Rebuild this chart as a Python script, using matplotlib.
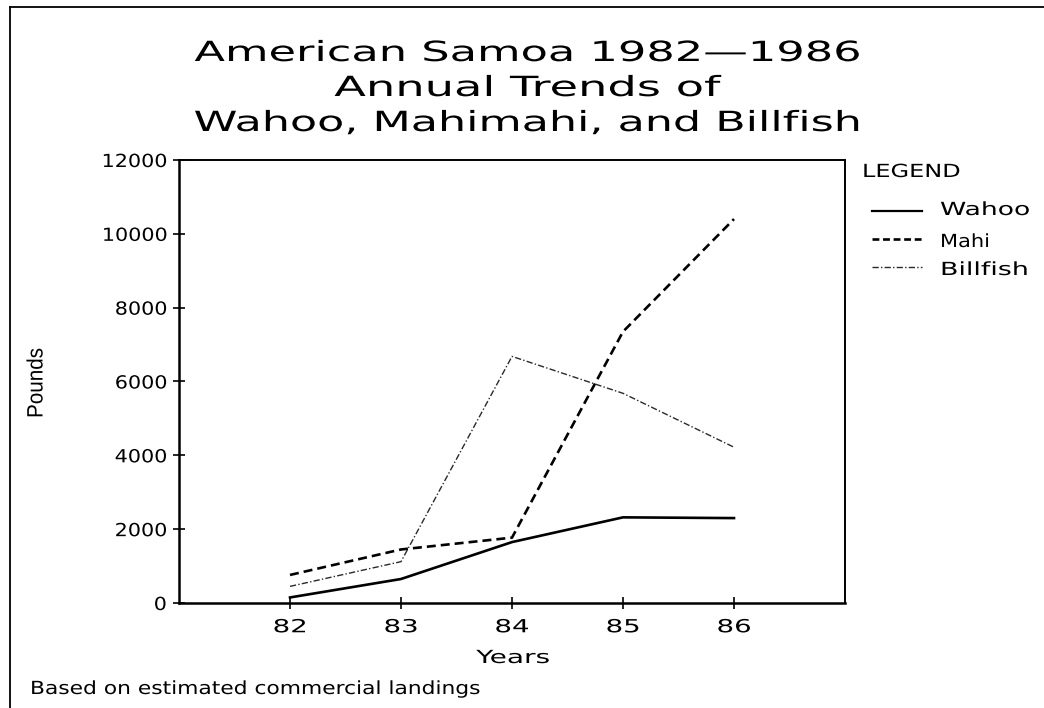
import matplotlib
matplotlib.use("Agg")
import matplotlib.pyplot as plt
from matplotlib.lines import Line2D
from matplotlib.patheffects import AbstractPathEffect
from matplotlib.transforms import Affine2D

years = [82, 83, 84, 85, 86]
wahoo = [150, 650, 1650, 2320, 2300]
mahi = [760, 1450, 1770, 7350, 10400]
billfish = [450, 1120, 6680, 5680, 4220]
yticks = [0, 2000, 4000, 6000, 8000, 10000, 12000]
series_names = ["Wahoo", "Mahi", "Billfish"]
title_lines = ["American Samoa 1982\u20141986", "Annual Trends of", "Wahoo, Mahimahi, and Billfish"]
footer = "Based on estimated commercial landings"


class HStretch(AbstractPathEffect):
    """Stretch glyph outlines along the baseline (keeps the text as text)."""
    def __init__(self, sx=1.0, anchor="center"):
        super().__init__()
        self.sx = sx
        self.anchor = anchor

    def draw_path(self, renderer, gc, tpath, affine, rgbFace=None):
        ext = tpath.get_extents()
        if self.anchor == "left":
            cx = 0.0
        elif self.anchor == "right":
            cx = ext.x1
        else:
            cx = 0.5 * (ext.x0 + ext.x1)
        t = Affine2D().translate(-cx, 0).scale(self.sx, 1.0).translate(cx, 0) + affine
        renderer.draw_path(gc, tpath, t, rgbFace)


plt.rcParams['font.family'] = ['DejaVu Sans']
plt.rcParams['font.weight'] = 'normal'

W, H = 1044, 708
fig = plt.figure(figsize=(W / 100, H / 100), dpi=100)
fig.patch.set_facecolor('white')

def fx(px):
    return px / W

def fy(py):
    return 1 - py / H

AX_L, AX_R, AX_T, AX_B = 179, 845, 160, 603
ax = fig.add_axes([fx(AX_L), fy(AX_B), (AX_R - AX_L) / W, (AX_B - AX_T) / H])

line_styles = [dict(color='black', lw=1.9, ls='-'),
               dict(color='black', lw=1.9, ls=(0, (3.4, 1.9))),
               dict(color='#2a2a2a', lw=1.0, ls=(0, (4.5, 1.6, 1.0, 1.6)))]
for vals, name, st in zip([wahoo, mahi, billfish], series_names, line_styles):
    ax.plot(years, vals, label=name, **st)

ax.set_xlim(81, 87)
ax.set_ylim(0, 12000)
ax.set_xticks(years)
ax.set_xticklabels([str(y) for y in years])
ax.set_yticks(yticks)
ax.set_yticklabels([str(v) for v in yticks])
ax.tick_params(direction='inout', length=8, width=1.2, labelsize=13)
ax.tick_params(axis='x', pad=7)
ax.tick_params(axis='y', pad=5)
for k, s in ax.spines.items():
    s.set_linewidth(1.8 if k in ('left', 'bottom') else 1.4)

stretch_items = []  # (text, effect, target width px)

xeff = HStretch(1.0, 'center')
for lbl in ax.get_xticklabels():
    lbl.set_path_effects([xeff])
yeff = HStretch(1.0, 'right')
for lbl in ax.get_yticklabels():
    lbl.set_path_effects([yeff])

ax.set_xlabel('Years', fontsize=13, weight='normal')
ax.xaxis.label.set_va('baseline')
ax.xaxis.set_label_coords((513 - AX_L) / (AX_R - AX_L), -(663 - AX_B) / (AX_B - AX_T))
e = HStretch(1.0, 'center'); ax.xaxis.label.set_path_effects([e])
stretch_items.append((ax.xaxis.label, e, 74))

ax.set_ylabel('Pounds', fontsize=16, family=['Liberation Sans', 'DejaVu Sans'], weight='normal')
ax.yaxis.label.set_rotation_mode('default')
ax.yaxis.label.set_va('center')
ax.yaxis.label.set_ha('center')
ax.yaxis.set_label_coords(-(AX_L - 37) / (AX_R - AX_L), (AX_B - 383) / (AX_B - AX_T))
e = HStretch(1.0, 'center'); ax.yaxis.label.set_path_effects([e])
stretch_items.append((ax.yaxis.label, e, 70))

# Title
title_base = [61, 96, 131]
title_w = [667, 386, 669]
for t, yb, tw in zip(title_lines, title_base, title_w):
    txt = fig.text(fx(527.5), fy(yb), t, ha='center', va='baseline', fontsize=20)
    e = HStretch(1.0, 'center'); txt.set_path_effects([e])
    stretch_items.append((txt, e, tw))

# Legend (drawn manually, as in the original plotter output)
txt = fig.text(fx(862), fy(177), 'LEGEND', ha='left', va='baseline', fontsize=13)
e = HStretch(1.0, 'left'); txt.set_path_effects([e])
stretch_items.append((txt, e, 98))
leg_text_base = [215, 247, 275]
leg_line_y = [210.5, 239.5, 267.5]
leg_w = [90, 50, 89]
leg_styles = [dict(color='black', lw=1.6, ls='-'),
              dict(color='black', lw=1.9, ls=(0, (2.6, 1.4))),
              dict(color='#2a2a2a', lw=1.0, ls=(0, (4.5, 1.6, 1.0, 1.6)))]
for name, st, yb, ly, lw_ in zip(series_names, leg_styles, leg_text_base, leg_line_y, leg_w):
    fig.add_artist(Line2D([fx(872), fx(922)], [fy(ly), fy(ly)], transform=fig.transFigure, **st))
    txt = fig.text(fx(940), fy(yb), name, ha='left', va='baseline', fontsize=13)
    e = HStretch(1.0, 'left'); txt.set_path_effects([e])
    stretch_items.append((txt, e, lw_))

txt = fig.text(fx(30), fy(694), footer, ha='left', va='baseline', fontsize=13)
e = HStretch(1.0, 'left'); txt.set_path_effects([e])
stretch_items.append((txt, e, 450))

# outer frame lines of the original page
fig.add_artist(Line2D([fx(9.5), fx(9.5)], [0, fy(7)], transform=fig.transFigure, color='black', lw=1.3))
fig.add_artist(Line2D([fx(9.5), 1], [fy(7), fy(7)], transform=fig.transFigure, color='black', lw=1.3))

# Fit glyph stretch so each text spans the width seen in the original
fig.canvas.draw()
r = fig.canvas.get_renderer()
for t, eff, target in stretch_items:
    bb = t.get_window_extent(r)
    w = bb.height if t.get_rotation() in (90, 270) else bb.width
    eff.sx = target / w
xl = [l for l in ax.get_xticklabels() if l.get_text() == '84'][0]
xeff.sx = 35 / xl.get_window_extent(r).width
yl = [l for l in ax.get_yticklabels() if l.get_text() == '12000'][0]
yeff.sx = 65 / yl.get_window_extent(r).width

fig.savefig('out.png', dpi=100)
